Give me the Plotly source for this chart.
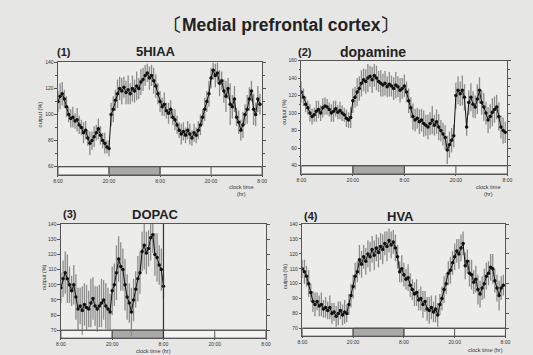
import plotly.graph_objects as go

W, H = 533, 355

hours_48 = [i * 0.5 for i in range(96)]
hours_24 = [i * 0.5 for i in range(49)]

tick_hours = [0, 12, 24, 36, 48]
tick_text = ["8:00", "20:00", "8:00", "20:00", "8:00"]
dark_periods = [(12, 24)]
strip_marks = [12, 24, 36]

hiaa = [110, 114, 116, 112, 106, 100,
        97, 98, 95, 96, 92, 90,
        86, 88, 82, 78, 80, 83,
        86, 89, 84, 80, 78, 75,
        74, 100, 104, 111, 116, 120,
        118, 121, 117, 119, 116, 120,
        118, 122, 120, 125, 127, 130,
        132, 128, 130, 126, 122, 116,
        110, 106, 108, 103, 101, 104,
        98, 96, 92, 88, 85, 87,
        84, 88, 85, 82, 86, 84,
        88, 92, 98, 104, 110, 116,
        128, 134, 130, 132, 124, 126,
        118, 114, 120, 108, 106, 112,
        98, 94, 88, 92, 100, 104,
        112, 118, 104, 100, 112, 108]
hiaa_err = [8, 10, 9, 7, 8, 6, 7, 8, 6, 9, 7, 6, 8, 7, 6, 9, 7, 8, 6, 8, 7, 6, 8, 5,
            6, 9, 10, 8, 11, 9, 10, 8, 9, 11, 8, 10, 9, 11, 8, 10, 9, 8, 7, 9, 8, 10, 9, 8,
            8, 7, 9, 6, 8, 7, 6, 8, 7, 6, 8, 7, 6, 7, 8, 6, 7, 6, 7, 8, 6, 9, 8, 10,
            8, 7, 9, 8, 10, 7, 9, 12, 8, 16, 9, 10, 7, 9, 8, 10, 8, 11, 9, 8, 12, 9, 10, 8]

dopamine = [124, 118, 110, 106, 100, 96,
            98, 102, 104, 100, 106, 108,
            107, 104, 100, 102, 105, 101,
            103, 100, 98, 94, 92, 95,
            114, 118, 124, 128, 134, 138,
            136, 140, 142, 138, 143, 140,
            136, 134, 132, 134, 130, 133,
            131, 128, 132, 130, 126, 128,
            131, 124, 114, 106, 96, 92,
            94, 90, 92, 88, 86, 84,
            88, 92, 86, 90, 84, 80,
            76, 72, 58, 64, 69, 74,
            120, 126, 122, 126, 118, 84,
            112, 118, 110, 107, 116, 126,
            112, 107, 100, 92, 96, 101,
            104, 107, 96, 84, 80, 78]
dopamine_err = [12, 10, 9, 8, 10, 9, 8, 12, 10, 9, 11, 10, 9, 8, 10, 12, 9, 8, 10, 9, 8, 10, 9, 12,
                14, 12, 16, 14, 15, 13, 14, 16, 12, 15, 13, 14, 12, 15, 13, 14, 12, 14, 12, 13, 15, 12, 14, 12,
                13, 12, 14, 12, 15, 13, 12, 14, 13, 15, 12, 14, 13, 16, 12, 14, 15, 12, 13, 14, 16, 15, 14, 13,
                15, 16, 14, 17, 15, 10, 14, 16, 15, 13, 17, 15, 14, 16, 13, 15, 14, 16, 15, 14, 16, 13, 15, 12]

dopac = [98, 104, 108, 104, 100, 96,
         100, 92, 84, 86, 83, 87,
         85, 84, 88, 91, 86, 84,
         86, 88, 90, 86, 84, 82,
         96, 100, 108, 117, 112, 110,
         100, 92, 88, 82, 90, 97,
         104, 108, 122, 126, 121, 124,
         131, 133, 120, 118, 113, 110,
         99]
dopac_err = [10, 12, 14, 16, 12, 10, 13, 15, 14, 12, 16, 14, 15, 12, 16, 14, 13, 15,
             14, 16, 13, 15, 14, 12, 16, 14, 18, 15, 16, 14, 17, 15, 13, 16, 14, 12,
             15, 14, 13, 16, 14, 12, 15, 12, 14, 16, 13, 14, 8]

hva = [110, 108, 105, 100, 94, 88,
       86, 88, 85, 86, 83, 84,
       82, 84, 80, 81, 78, 80,
       82, 79, 81, 80, 86, 92,
       98, 105, 108, 116, 113, 118,
       115, 120, 118, 123, 119, 124,
       121, 125, 123, 127, 125, 129,
       126, 128, 124, 118, 108, 110,
       106, 103, 104, 99, 96, 93,
       94, 89, 90, 86, 88, 83,
       82, 84, 81, 83, 79, 86,
       90, 96, 100, 107, 109, 114,
       118, 122, 120, 124, 127, 112,
       115, 107, 106, 101, 103, 96,
       93, 97, 100, 105, 107, 111,
       110, 102, 97, 92, 97, 99]
hva_err = [6, 8, 7, 9, 6, 7, 8, 6, 7, 8, 6, 7, 6, 8, 7, 6, 7, 8, 6, 7, 8, 6, 7, 8,
           8, 9, 7, 10, 9, 8, 9, 9, 10, 9, 10, 9, 10, 9, 10, 8, 10, 8, 9, 8, 9, 8, 7, 9,
           8, 7, 9, 8, 7, 8, 9, 7, 8, 9, 7, 8, 9, 8, 7, 9, 8, 7, 8, 9, 7, 8, 9, 8,
           9, 8, 10, 9, 8, 9, 8, 9, 10, 8, 9, 10, 9, 8, 10, 9, 8, 9, 10, 8, 9, 10, 8, 7]

panels = [
    dict(name="5HIAA", num="(1)", x=hours_48, y=hiaa, err=hiaa_err,
         px=(54, 262), py=(60, 173), yr=[53.9, 140], base=60,
         ticks=[60, 80, 100, 120, 140], minor=[70, 90, 110, 130],
         num_pos=(60, 49), name_pos=(154, 49), name_size=13, ylab_y=112,
         clk=(241, 181), clk_text="clock time<br>(hr)"),
    dict(name="dopamine", num="(2)", x=hours_48, y=dopamine, err=dopamine_err,
         px=(302, 512), py=(58, 172), yr=[31, 160], base=40,
         ticks=[40, 60, 80, 100, 120, 140, 160], minor=[50, 70, 90, 110, 130, 150],
         num_pos=(306, 49), name_pos=(375, 49), name_size=14, ylab_y=110,
         clk=(492, 181), clk_text="clock time<br>(hr)"),
    dict(name="DOPAC", num="(3)", x=hours_24, y=dopac, err=dopac_err,
         px=(57, 266), py=(223, 338), yr=[64.8, 140], base=70,
         ticks=[70, 80, 90, 100, 110, 120, 130, 140], minor=[],
         num_pos=(66, 213), name_pos=(153, 213), name_size=13, ylab_y=276,
         clk=(151, 346), clk_text="clock time (hr)"),
    dict(name="HVA", num="(4)", x=hours_48, y=hva, err=hva_err,
         px=(303, 510), py=(223, 336), yr=[64.7, 140], base=70,
         ticks=[70, 80, 90, 100, 110, 120, 130, 140], minor=[],
         num_pos=(312, 215), name_pos=(403, 215), name_size=13, ylab_y=276,
         clk=(490, 345), clk_text="clock time (hr)"),
]

FONT = "Liberation Sans, Arial, sans-serif"
LINE = "#555555"
fig = go.Figure()
shapes = []
annotations = []
layout = {}

for i, p in enumerate(panels):
    k = "" if i == 0 else str(i + 1)
    xa, ya = "x" + k, "y" + k
    fig.add_trace(go.Scatter(
        x=p["x"], y=p["y"], xaxis=xa, yaxis=ya, mode="lines+markers",
        line=dict(color="#111111", width=1),
        marker=dict(color="#111111", size=3.5),
        error_y=dict(type="data", array=p["err"], color="#8c8c8c", thickness=1.3, width=0),
        showlegend=False, hoverinfo="skip"))
    layout["xaxis" + k] = dict(
        domain=[p["px"][0] / W, p["px"][1] / W], anchor=ya, range=[0, 48],
        tickvals=tick_hours, ticktext=tick_text, ticks="outside", ticklen=1,
        tickcolor=LINE, tickfont=dict(size=5, color="#333", family=FONT),
        showline=True, linecolor=LINE, linewidth=1, mirror=True,
        showgrid=False, zeroline=False, fixedrange=True)
    layout["yaxis" + k] = dict(
        domain=[1 - p["py"][1] / H, 1 - p["py"][0] / H], anchor=xa, range=p["yr"],
        tickvals=p["ticks"], ticks="outside", ticklen=2.5, tickcolor=LINE,
        tickfont=dict(size=5, color="#333", family=FONT),
        minor=dict(tickvals=p["minor"], ticks="outside", ticklen=1.5, tickcolor=LINE),
        showline=True, linecolor=LINE, linewidth=1, mirror="ticks",
        showgrid=False, zeroline=False, fixedrange=True)
    # light/dark strip under each panel
    shapes.append(dict(type="rect", xref=xa, yref=ya, x0=0, x1=48, y0=p["yr"][0], y1=p["base"],
                       fillcolor="#f3f3f1", line=dict(color=LINE, width=1), layer="below"))
    for d0, d1 in dark_periods:
        shapes.append(dict(type="rect", xref=xa, yref=ya, x0=d0, x1=d1, y0=p["yr"][0], y1=p["base"],
                           fillcolor="#a9a9a7", line=dict(color=LINE, width=1), layer="below"))
    for m in strip_marks:
        shapes.append(dict(type="line", xref=xa, yref=ya, x0=m, x1=m, y0=p["yr"][0], y1=p["base"],
                           line=dict(color=LINE, width=1)))
    shapes.append(dict(type="line", xref=xa, yref=ya, x0=0, x1=48, y0=p["base"], y1=p["base"],
                       line=dict(color=LINE, width=1.2)))
    if p["x"][-1] <= 24:
        shapes.append(dict(type="line", xref=xa, yref=ya, x0=p["x"][-1], x1=p["x"][-1],
                           y0=p["yr"][0], y1=p["yr"][1], line=dict(color="#333", width=1.2)))
    annotations += [
        dict(text="<b>" + p["num"] + "</b>", x=p["num_pos"][0] / W, y=1 - p["num_pos"][1] / H,
             xref="paper", yref="paper", showarrow=False,
             font=dict(size=11, family=FONT, color="#222"), xanchor="center", yanchor="middle"),
        dict(text="<b>" + p["name"] + "</b>", x=p["name_pos"][0] / W, y=1 - p["name_pos"][1] / H,
             xref="paper", yref="paper", showarrow=False,
             font=dict(size=p["name_size"], family=FONT, color="#222"), xanchor="center", yanchor="middle"),
        dict(text="output (%)", x=(p["px"][0] - 18) / W, y=1 - p["ylab_y"] / H, xref="paper", yref="paper",
             showarrow=False, textangle=-90, font=dict(size=5.5, family=FONT, color="#333"),
             xanchor="center", yanchor="middle"),
        dict(text=p["clk_text"], x=p["clk"][0] / W, y=1 - p["clk"][1] / H, xref="paper", yref="paper",
             showarrow=False, font=dict(size=5.5, family=FONT, color="#333"),
             xanchor="center", yanchor="top"),
    ]

annotations.append(dict(text="<b>〔Medial prefrontal cortex〕</b>", x=281 / W, y=1 - 22 / H,
                        xref="paper", yref="paper", showarrow=False,
                        font=dict(size=17.5, family=FONT, color="#222"), xanchor="center", yanchor="middle"))

fig.update_layout(
    width=W, height=H, margin=dict(l=0, r=0, t=0, b=0),
    paper_bgcolor="#e6e6e4", plot_bgcolor="#ececea",
    shapes=shapes, annotations=annotations, **layout)

fig.write_html("out.html", config={"displayModeBar": False},
               post_script="document.body.style.margin='0';document.body.style.overflow='hidden';")
